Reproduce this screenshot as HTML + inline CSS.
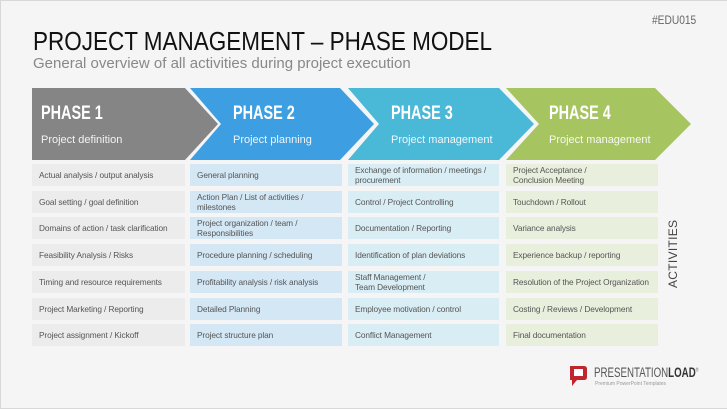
<!DOCTYPE html>
<html><head><meta charset="utf-8"><style>
*{margin:0;padding:0;box-sizing:border-box}
body{width:727px;height:409px;overflow:hidden;background:#f5f5f5;font-family:"Liberation Sans",sans-serif;position:relative}
.frame{position:absolute;left:0;top:0;width:727px;height:409px;border:1px solid #d8d8d8;border-right:none}
.t{position:absolute;white-space:nowrap}
.cell{position:absolute;height:22px;font-size:8.3px;color:#555;padding-left:7px;display:flex;align-items:center;line-height:10px;letter-spacing:-0.1px}
.c1{background:#ececec;left:32px;width:153px}
.c2{background:#d4e7f5;left:190px;width:152px}
.c3{background:#d9edf4;left:348px;width:151px}
.c4{background:#e9efdd;left:506px;width:152px}
.ph{position:absolute;color:#fff;font-weight:bold;font-size:19px;top:103px;transform:scaleX(0.76);transform-origin:left}
.sub{position:absolute;font-size:11px;top:134px;color:rgba(255,255,255,0.9)}
</style></head><body>
<div class="frame"></div>
<div class="t" style="left:33px;top:26px;font-size:26px;color:#111;transform:scaleX(0.865);transform-origin:left">PROJECT MANAGEMENT – PHASE MODEL</div>
<div class="t" style="left:33px;top:55px;font-size:15px;color:#888;transform:scaleX(1.0);transform-origin:left">General overview of all activities during project execution</div>
<div class="t" style="left:652px;top:13px;font-size:12px;color:#666;transform:scaleX(0.85);transform-origin:left">#EDU015</div>
<svg style="position:absolute;left:0;top:0" width="727" height="409">
<polygon points="32,88 185,88 218,124 185,160 32,160" fill="#858585"/>
<polygon points="190,88 340,88 374,124 340,160 190,160 221,124" fill="#3d9fe2"/>
<polygon points="348,88 499,88 534,124 499,160 348,160 379,124" fill="#4ab9d8"/>
<polygon points="506,88 655,88 691,124 655,160 506,160 539,124" fill="#a6c460"/>
</svg>
<div class="ph" style="left:41px">PHASE 1</div><div class="sub" style="left:41px">Project definition</div>
<div class="ph" style="left:233px">PHASE 2</div><div class="sub" style="left:233px">Project planning</div>
<div class="ph" style="left:391px">PHASE 3</div><div class="sub" style="left:391px">Project management</div>
<div class="ph" style="left:549px">PHASE 4</div><div class="sub" style="left:549px">Project management</div>

<div class="cell c1" style="top:164px">Actual analysis / output analysis</div>
<div class="cell c1" style="top:191px">Goal setting / goal definition</div>
<div class="cell c1" style="top:217px">Domains of action / task clarification</div>
<div class="cell c1" style="top:244px">Feasibility Analysis / Risks</div>
<div class="cell c1" style="top:271px">Timing and resource requirements</div>
<div class="cell c1" style="top:298px">Project Marketing / Reporting</div>
<div class="cell c1" style="top:324px">Project assignment / Kickoff</div>

<div class="cell c2" style="top:164px">General planning</div>
<div class="cell c2" style="top:191px">Action Plan / List of activities /<br>milestones</div>
<div class="cell c2" style="top:217px">Project organization / team /<br>Responsibilities</div>
<div class="cell c2" style="top:244px">Procedure planning / scheduling</div>
<div class="cell c2" style="top:271px">Profitability analysis / risk analysis</div>
<div class="cell c2" style="top:298px">Detailed Planning</div>
<div class="cell c2" style="top:324px">Project structure plan</div>

<div class="cell c3" style="top:164px">Exchange of information / meetings /<br>procurement</div>
<div class="cell c3" style="top:191px">Control / Project Controlling</div>
<div class="cell c3" style="top:217px">Documentation / Reporting</div>
<div class="cell c3" style="top:244px">Identification of plan deviations</div>
<div class="cell c3" style="top:271px">Staff Management /<br>Team Development</div>
<div class="cell c3" style="top:298px">Employee motivation / control</div>
<div class="cell c3" style="top:324px">Conflict Management</div>

<div class="cell c4" style="top:164px">Project Acceptance /<br>Conclusion Meeting</div>
<div class="cell c4" style="top:191px">Touchdown / Rollout</div>
<div class="cell c4" style="top:217px">Variance analysis</div>
<div class="cell c4" style="top:244px">Experience backup / reporting</div>
<div class="cell c4" style="top:271px">Resolution of the Project Organization</div>
<div class="cell c4" style="top:298px">Costing / Reviews / Development</div>
<div class="cell c4" style="top:324px">Final documentation</div>

<div class="t" style="left:666px;top:288px;font-size:12px;color:#444;transform:rotate(-90deg);transform-origin:left top;letter-spacing:0.3px">ACTIVITIES</div>

<svg style="position:absolute;left:569px;top:364px" width="20" height="24">
<path d="M1,2 H15 Q18,2 18,5 V13 Q18,16 15,16 H8 L3,22 V16 H1 Z" fill="#c0262d"/>
<rect x="5" y="5" width="9" height="7" fill="#fff"/>
</svg>
<div class="t" style="left:594px;top:365px;font-size:13.5px;color:#555;transform:scaleX(0.72);transform-origin:left">PRESENTATION<b style="color:#333">LOAD</b><sup style="font-size:5px">®</sup></div>
<div class="t" style="left:595px;top:381px;font-size:5px;color:#999">Premium PowerPoint Templates</div>
</body></html>
